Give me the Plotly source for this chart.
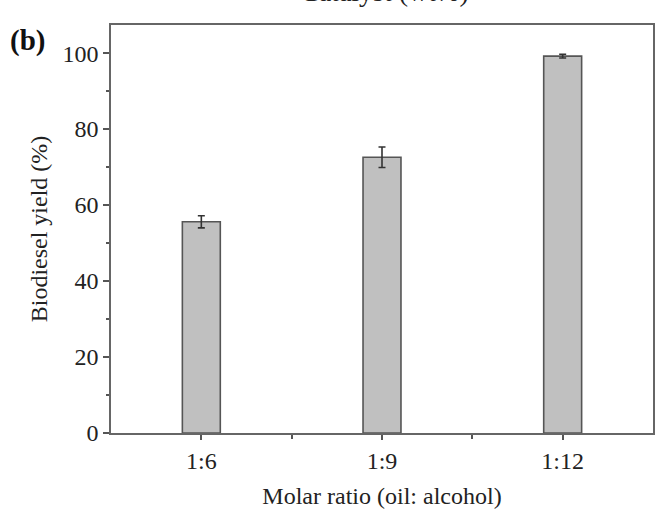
import plotly.graph_objects as go

categories = ["1:6", "1:9", "1:12"]
yield_pct = [55.6, 72.6, 99.2]
yield_err = [1.6, 2.7, 0.5]

y_ticks = [0, 20, 40, 60, 80, 100]

FONT = "Liberation Serif, Times New Roman, serif"

fig = go.Figure()
fig.add_trace(go.Bar(
    x=[0, 1, 2],
    y=yield_pct,
    width=0.21,
    marker=dict(color="#c0c0c0", line=dict(color="#555555", width=1.6)),
    error_y=dict(type="data", array=yield_err, visible=True,
                 color="#333333", thickness=1.6, width=3.5),
    showlegend=False,
))

fig.update_layout(
    width=656, height=510,
    margin=dict(l=111, r=1, t=25, b=77),
    paper_bgcolor="white", plot_bgcolor="white",
    font=dict(family=FONT, size=24, color="#222222"),
    xaxis=dict(
        range=[-0.5, 2.5],
        tickmode="array", tickvals=[0, 1, 2], ticktext=categories,
        ticks="outside", ticklen=5, tickwidth=1.5, tickcolor="#555555",
        minor=dict(tickmode="array", tickvals=[0.5, 1.5], ticks="outside",
                   ticklen=4, tickwidth=1.5, tickcolor="#555555"),
        showline=True, linecolor="#666666", linewidth=1.6, mirror=True,
        showgrid=False, zeroline=False,
        title=dict(text="Molar ratio (oil: alcohol)", standoff=15,
                   font=dict(size=24)),
    ),
    yaxis=dict(
        range=[0, 107.4],
        tickmode="array", tickvals=y_ticks,
        ticks="outside", ticklen=6, tickwidth=1.5, tickcolor="#555555",
        minor=dict(tickmode="array", tickvals=[10, 30, 50, 70, 90],
                   ticks="outside", ticklen=3, tickwidth=1.5,
                   tickcolor="#555555"),
        showline=True, linecolor="#666666", linewidth=1.6, mirror=True,
        showgrid=False, zeroline=False,
        title=dict(text="Biodiesel yield (%)", standoff=8,
                   font=dict(size=24)),
    ),
    annotations=[
        dict(text="<b>(b)</b>", xref="paper", yref="paper",
             x=-0.19, y=0.963, xanchor="left", yanchor="middle",
             showarrow=False, font=dict(family=FONT, size=29, color="#111111")),
        dict(text="Catalyst (wt%)", xref="paper", yref="paper",
             x=0.504, y=1.04, xanchor="center", yanchor="bottom",
             showarrow=False, font=dict(family=FONT, size=28, color="#222222")),
    ],
)

fig.write_html("out.html", config={"displayModeBar": False},
               post_script="document.body.style.margin='0px';document.body.style.overflow='hidden';")
